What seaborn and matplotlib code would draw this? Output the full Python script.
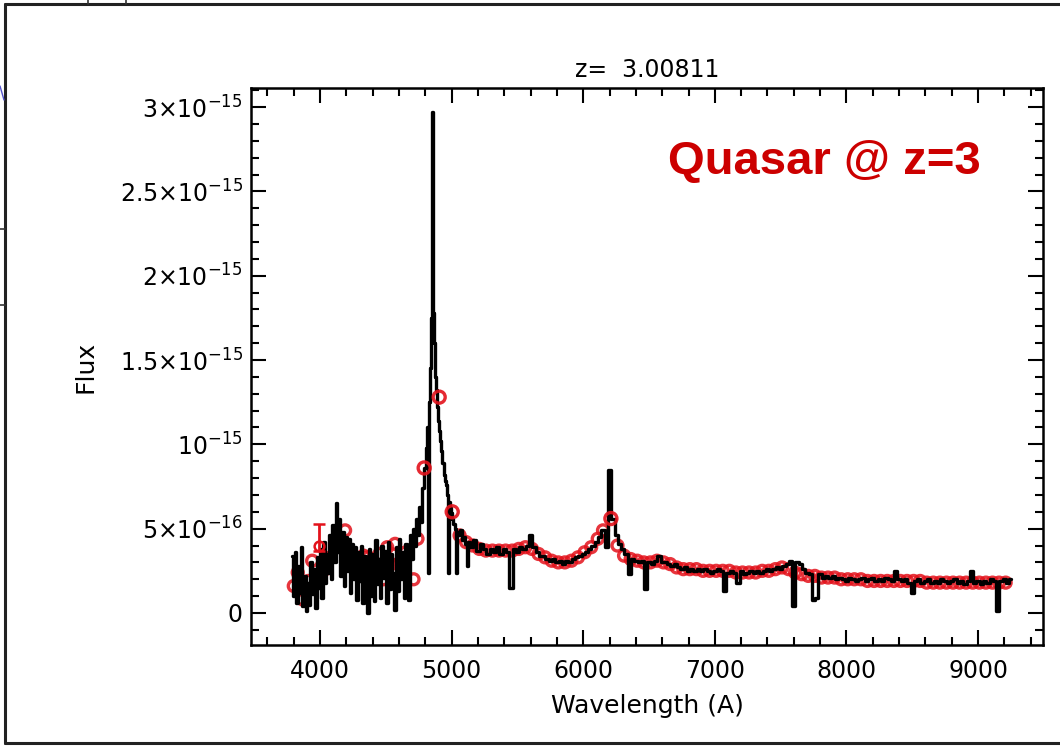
import numpy as np
import pandas as pd
import matplotlib
matplotlib.use("Agg")
import matplotlib.pyplot as plt
import seaborn as sns
from matplotlib.lines import Line2D
from matplotlib.ticker import FixedLocator, MultipleLocator

# spectrum, flux in units of 1e-16
wave_blue = [3790, 3800, 3812, 3824, 3836, 3848, 3860, 3872, 3884, 3896,
             3908, 3920, 3932, 3944, 3956, 3968, 3980, 3992, 4004, 4016,
             4028, 4040, 4052, 4064, 4076, 4088, 4100, 4112, 4124, 4136,
             4148, 4160, 4172, 4184, 4196, 4208, 4220, 4232, 4244, 4256,
             4268, 4280, 4292, 4304, 4316, 4328, 4340, 4352, 4364, 4376,
             4388, 4400, 4412, 4424, 4436, 4448, 4460, 4472, 4484, 4496,
             4508, 4520, 4532, 4544, 4556, 4568, 4580, 4592, 4604, 4616,
             4628, 4640, 4652, 4664, 4676, 4688, 4700, 4712, 4724, 4736,
             4748]
flux_blue = [3.4, 1.0, 3.6, 0.6, 2.8, 1.2, 3.9, 0.4, 2.2, 0.1,
             1.8, 0.5, 3.0, 1.1, 2.6, 0.3, 3.3, 1.5, 3.8, 0.9,
             4.2, 1.8, 3.5, 2.4, 4.6, 2.0, 5.2, 3.0, 6.5, 3.6,
             5.6, 2.2, 4.8, 1.6, 4.5, 2.5, 4.4, 1.2, 4.1, 2.0,
             3.9, 0.8, 3.6, 1.9, 4.0, 0.6, 3.4, 1.5, 0.0, 3.8,
             1.0, 3.5, 0.7, 4.3, 1.7, 3.2, 0.9, 4.0, 2.1, 3.7,
             0.6, 4.2, 1.4, 3.5, 2.4, 0.2, 3.9, 1.3, 4.4, 2.0,
             3.6, 0.9, 4.1, 2.6, 0.8, 4.6, 3.2, 5.0, 4.0, 5.6,
             4.6]

wave_lya = [4760, 4772, 4784, 4796, 4808, 4818, 4826, 4832, 4840, 4846,
            4852, 4858, 4864, 4870, 4878, 4886, 4894, 4902, 4910, 4918,
            4926, 4934, 4942, 4950, 4958, 4966, 4974, 4982, 4990, 4998,
            5008, 5018, 5028, 5038, 5048, 5060, 5072, 5084, 5096, 5108,
            5120, 5132]
flux_lya = [6.3, 5.4, 7.4, 8.6, 9.8, 11.0, 2.4, 12.5, 14.5, 17.5,
            29.7, 18.5, 17.8, 16.0, 14.0, 13.2, 12.2, 11.4, 10.8, 10.2,
            9.6, 8.9, 8.2, 7.8, 7.6, 7.0, 2.4, 6.6, 6.2, 5.9,
            5.6, 5.3, 5.0, 2.4, 4.8, 4.6, 4.9, 4.3, 4.5, 4.1,
            2.8, 4.2]

wave_cont = [5150, 5175, 5200, 5225, 5250, 5275, 5300, 5325,
             5350, 5375, 5400, 5425, 5450, 5475, 5500, 5525,
             5550, 5575, 5600, 5625, 5650, 5675, 5700, 5725,
             5750, 5775, 5800, 5825, 5850, 5875, 5900, 5925,
             5950, 5975, 6000, 6025, 6050, 6075, 6100, 6125,
             6150, 6175, 6200, 6225, 6250, 6275, 6300, 6325,
             6350, 6375, 6400, 6425, 6450, 6475, 6500, 6525,
             6550, 6575, 6600, 6625, 6650, 6675, 6700, 6725,
             6750, 6775, 6800, 6825, 6850, 6875, 6900, 6925,
             6950, 6975, 7000, 7025, 7050, 7075, 7100, 7125,
             7150, 7175, 7200, 7225, 7250, 7275, 7300, 7325,
             7350, 7375, 7400, 7425, 7450, 7475, 7500, 7525,
             7550, 7575, 7600, 7625, 7650, 7675, 7700, 7725,
             7750, 7775, 7800, 7825, 7850, 7875, 7900, 7925,
             7950, 7975, 8000, 8025, 8050, 8075, 8100, 8125,
             8150, 8175, 8200, 8225, 8250, 8275, 8300, 8325,
             8350, 8375, 8400, 8425, 8450, 8475, 8500, 8525,
             8550, 8575, 8600, 8625, 8650, 8675, 8700, 8725,
             8750, 8775, 8800, 8825, 8850, 8875, 8900, 8925,
             8950, 8975, 9000, 9025, 9050, 9075, 9100, 9125,
             9150, 9175, 9200, 9225, 9250]
flux_cont = [3.9, 4.3, 3.7, 4.1, 3.8, 3.5, 3.8, 3.6,
             3.9, 3.5, 3.8, 3.6, 1.5, 3.8, 3.6, 3.9,
             3.8, 4.0, 4.6, 3.9, 3.6, 3.4, 3.4, 3.2,
             3.1, 3.2, 3.0, 3.1, 2.9, 3.1, 3.0, 3.2,
             3.3, 3.4, 3.5, 3.6, 3.8, 4.0, 4.2, 4.5,
             4.9, 3.9, 8.5, 5.6, 4.6, 4.1, 3.8, 3.5,
             2.3, 3.2, 3.1, 3.0, 3.1, 1.4, 3.0, 2.9,
             3.1, 3.4, 3.0, 3.0, 2.9, 2.8, 2.9, 2.7,
             2.6, 2.7, 2.5, 2.6, 2.5, 2.6, 2.5, 2.6,
             2.5, 2.4, 2.5, 2.6, 2.5, 1.3, 2.4, 2.5,
             2.4, 1.8, 2.5, 2.3, 2.4, 2.5, 2.4, 2.5,
             2.4, 2.5, 2.6, 2.5, 2.6, 2.7, 2.6, 2.8,
             2.9, 3.1, 0.4, 3.0, 2.9, 2.6, 2.4, 2.3,
             0.8, 0.9, 2.3, 2.1, 2.2, 2.1, 2.2, 2.0,
             2.1, 2.0, 1.9, 2.1, 2.0, 1.9, 2.0, 2.1,
             1.9, 2.0, 2.1, 1.9, 2.0, 1.9, 2.1, 2.0,
             1.9, 2.5, 2.0, 1.9, 2.0, 1.8, 1.2, 1.9,
             2.0, 1.8, 1.9, 2.0, 1.8, 1.9, 1.8, 2.0,
             1.9, 1.8, 1.9, 2.0, 1.8, 1.9, 1.7, 1.9,
             2.5, 1.8, 1.9, 1.7, 1.9, 1.8, 2.0, 1.9,
             0.1, 1.9, 2.0, 1.8, 2.0]

# red model points
red_blue_wave = [3800, 3830, 3870, 3910, 3940, 4040, 4080, 4130, 4190, 4230,
                 4290, 4330, 4365, 4410, 4450, 4480, 4510, 4540, 4570, 4610,
                 4650, 4710, 4740]
red_blue_flux = [1.6, 2.4, 0.8, 1.9, 3.1, 2.6, 3.3, 4.2, 4.9, 3.6,
                 2.5, 3.4, 3.3, 2.7, 3.5, 2.0, 3.9, 2.9, 4.1, 3.0,
                 3.6, 2.0, 4.4]
red_cont_wave = [5060, 5110, 5160, 5210, 5260, 5310, 5360, 5410, 5460, 5510,
                 5560, 5610, 5660, 5710, 5760, 5810, 5860, 5910, 5960, 6010,
                 6060, 6110, 6150, 6260, 6310, 6360, 6410, 6460, 6510, 6560,
                 6610, 6660, 6710, 6760, 6810, 6860, 6910, 6960, 7010, 7060,
                 7110, 7160, 7210, 7260, 7310, 7360, 7410, 7460, 7510, 7560,
                 7610, 7660, 7710, 7760, 7810, 7860, 7910, 7960, 8010, 8060,
                 8110, 8160, 8210, 8260, 8310, 8360, 8410, 8460, 8510, 8560,
                 8610, 8660, 8710, 8760, 8810, 8860, 8910, 8960, 9010, 9060,
                 9110, 9160, 9210]
red_cont_flux = [4.6, 4.2, 4.0, 3.8, 3.7, 3.7, 3.7, 3.7, 3.7, 3.8,
                 3.9, 3.8, 3.5, 3.3, 3.1, 3.0, 3.0, 3.1, 3.3, 3.6,
                 3.9, 4.4, 4.9, 4.0, 3.4, 3.2, 3.1, 3.0, 3.0, 3.1,
                 3.0, 2.9, 2.7, 2.6, 2.6, 2.6, 2.5, 2.5, 2.5, 2.5,
                 2.5, 2.4, 2.4, 2.4, 2.4, 2.5, 2.5, 2.6, 2.7, 2.6,
                 2.4, 2.3, 2.2, 2.2, 2.1, 2.1, 2.1, 2.0, 2.0, 2.0,
                 2.0, 1.9, 1.9, 1.9, 1.9, 1.9, 1.9, 1.9, 1.9, 1.9,
                 1.8, 1.8, 1.8, 1.8, 1.8, 1.8, 1.8, 1.8, 1.8, 1.8,
                 1.8, 1.8, 1.8]
line_wave = [4791, 4905, 5004, 6210]
line_flux = [8.6, 12.8, 6.0, 5.6]
err_wave = [3992]
err_flux = [4.0]
err_lo = [0.3]
err_hi = [1.3]

ytick_vals = [0, 5e-16, 1e-15, 1.5e-15, 2e-15, 2.5e-15, 3e-15]
ytick_labels = ["0", r"$5{\times}10^{-16}$", r"$10^{-15}$", r"$1.5{\times}10^{-15}$",
                r"$2{\times}10^{-15}$", r"$2.5{\times}10^{-15}$", r"$3{\times}10^{-15}$"]
xtick_vals = [4000, 5000, 6000, 7000, 8000, 9000]

sns.set_style("ticks")
plt.rcParams["font.family"] = ["DejaVu Sans"]
plt.rcParams.update({"text.color": "black", "axes.labelcolor": "black",
                     "xtick.color": "black", "ytick.color": "black"})

unit = 1e-16
spec = pd.DataFrame({"wave": wave_blue + wave_lya + wave_cont,
                     "flux": np.array(flux_blue + flux_lya + flux_cont) * unit})
red = pd.DataFrame({"wave": red_blue_wave + red_cont_wave,
                    "flux": np.array(red_blue_flux + red_cont_flux) * unit})
lines = pd.DataFrame({"wave": line_wave, "flux": np.array(line_flux) * unit})

fig = plt.figure(figsize=(10.6, 7.47), dpi=100)
ax = fig.add_axes([0.2368, 0.1365, 0.7472, 0.7457])

red_col = "#e3121b"
sns.scatterplot(data=red, x="wave", y="flux", ax=ax, marker="o", s=62,
                facecolors="none", edgecolor=red_col, linewidth=2.4, alpha=0.85, zorder=2)
sns.lineplot(data=spec, x="wave", y="flux", ax=ax, color="black", lw=2.4,
             drawstyle="steps-mid", estimator=None, sort=False, zorder=3)
sns.scatterplot(data=lines, x="wave", y="flux", ax=ax, marker="o", s=75,
                facecolors="none", edgecolor=red_col, linewidth=2.4, alpha=0.9, zorder=4)
ax.errorbar(err_wave, np.array(err_flux) * unit,
            yerr=[np.array(err_lo) * unit, np.array(err_hi) * unit],
            fmt="o", mfc="none", mec=red_col, ecolor=red_col, ms=7, mew=1.8,
            elinewidth=2, capsize=4, capthick=2, zorder=4)

ax.set_xlim(3475, 9494)
ax.set_ylim(-0.19e-15, 3.113e-15)
ax.xaxis.set_major_locator(FixedLocator(xtick_vals))
ax.xaxis.set_minor_locator(MultipleLocator(200))
ax.yaxis.set_major_locator(FixedLocator(ytick_vals))
ax.set_yticklabels(ytick_labels)
ax.yaxis.set_minor_locator(MultipleLocator(1e-16))
ax.tick_params(which="both", direction="in", top=True, right=True, width=1.5, colors="black")
ax.tick_params(which="major", length=11, labelsize=17, pad=10)
ax.tick_params(axis="y", which="major", pad=6)
ax.tick_params(which="minor", length=5.5)
for sp in ax.spines.values():
    sp.set_linewidth(1.8)
    sp.set_color("black")

ax.set_xlabel("Wavelength (A)", fontsize=18, labelpad=8)
ax.set_ylabel("Flux", fontsize=18)
ax.yaxis.set_label_coords(-0.194, 0.5)
ax.set_title("z=  3.00811", fontsize=17, pad=8)

ax.text(0.5265, 0.8456, "Quasar @ z=3", transform=ax.transAxes, fontsize=34,
        fontweight="bold", color="#cc0000", family=["Liberation Sans", "DejaVu Sans"],
        ha="left", va="baseline")

# slide frame around the picture
W, H = 1060, 747
frame = dict(color="#222222", lw=2.2, transform=fig.transFigure)
fig.add_artist(Line2D([5 / W, 1], [1 - 4 / H, 1 - 4 / H], **frame))
fig.add_artist(Line2D([5 / W, 5 / W], [1 - 4 / H, 1 - 743 / H], **frame))
fig.add_artist(Line2D([5 / W, 1], [1 - 743 / H, 1 - 743 / H], **frame))
thin = dict(color="#333333", lw=1.2, transform=fig.transFigure)
fig.add_artist(Line2D([88 / W, 88 / W], [1, 1 - 4 / H], **thin))
fig.add_artist(Line2D([126 / W, 126 / W], [1, 1 - 4 / H], **thin))
fig.add_artist(Line2D([0, 5 / W], [1 - 229 / H, 1 - 229 / H], **thin))
fig.add_artist(Line2D([0, 5 / W], [1 - 305 / H, 1 - 305 / H], **thin))
fig.add_artist(Line2D([0, 4 / W], [1 - 86 / H, 1 - 100 / H], color="#5555cc", lw=1,
                      transform=fig.transFigure))

fig.savefig("out.png", dpi=100)
